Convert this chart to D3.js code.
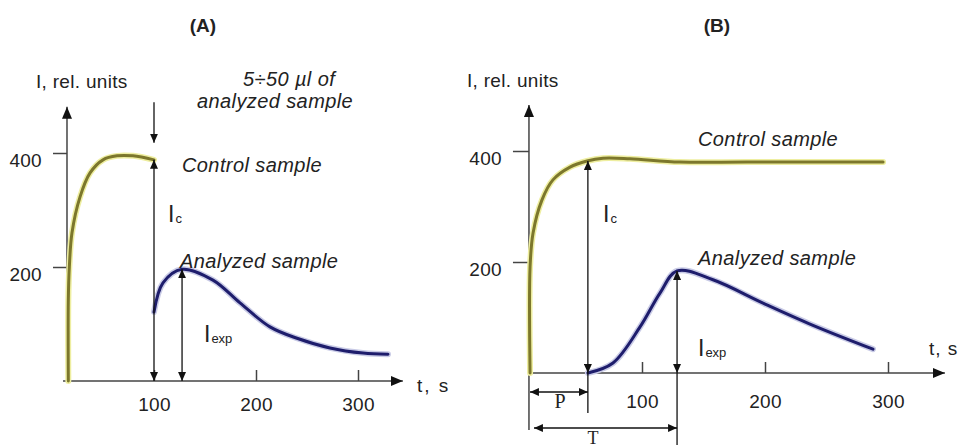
<!DOCTYPE html>
<html>
<head>
<meta charset="utf-8">
<script src="https://cdn.jsdelivr.net/npm/d3@7"></script>
<style>
  body { margin: 0; background: #fff; }
  svg text { font-family: "Liberation Sans", Arial, sans-serif; fill: #222; }
  .lbl { font-size: 20px; font-style: italic; letter-spacing: 0.4px; }
  .num { font-size: 19px; letter-spacing: 0.3px; }
  .ttl { font-size: 19px; font-weight: bold; }
  .axis .domain { display: none; }
  .axis line { stroke: #444; stroke-width: 1.5; }
</style>
</head>
<body>
<div id="figure-container"></div>
<script>
// tick values shared by both panels
const xTicks = [100, 200, 300];
const yTicks = [200, 400];

// (A) control sample, [t, I]
const controlA = [[16, 0], [16, 142], [17, 200], [19.6, 260], [27.5, 323], [37.3, 365],
  [50, 388], [63.7, 395], [79.4, 395], [100, 388]];
// (A) analyzed sample added at t = 100
const analyzedA = [[100, 121], [108.8, 172], [127.5, 196], [157.8, 177], [184.3, 137],
  [213.7, 95], [240.2, 75], [272.5, 58], [304.9, 49], [329.4, 47]];

// (B) control sample
const controlB = [[9, 0], [9, 191], [11.4, 252], [18.7, 312], [27.6, 348], [41.5, 371],
  [55.3, 382], [68.3, 387], [90.2, 386], [130.9, 380], [185.4, 380], [296, 380]];
// (B) analyzed sample, starts after delay P
const analyzedB = [[56, 0], [76.4, 18], [98.4, 83], [114.6, 144], [128.5, 184], [157.7, 168],
  [198.4, 126], [239, 86], [287.8, 43]];

// key times / levels
const injectA = 100, peakA = 127.5, peakIA = 196, ctrlIA = 388;
const P = 56, T = 128.5, peakIB = 184, ctrlIB = 382;

const W = 960, H = 445;

var svg = d3.select('#figure-container')
  .append('svg')
  .attr('width', W)
  .attr('height', H);

var defs = svg.append('defs');
function arrowMarker(id, len, wid) {
  defs.append('marker')
    .attr('id', id)
    .attr('viewBox', `0 0 ${len} ${wid}`)
    .attr('refX', len)
    .attr('refY', wid / 2)
    .attr('markerUnits', 'userSpaceOnUse')
    .attr('markerWidth', len)
    .attr('markerHeight', wid)
    .attr('orient', 'auto-start-reverse')
    .append('path')
    .attr('d', `M0,0L${len},${wid / 2}L0,${wid}z`)
    .attr('fill', '#111');
}
arrowMarker('head', 9, 8);
arrowMarker('axhead', 12, 10);

var line = (x, y) => d3.line()
  .x(d => x(d[0]))
  .y(d => y(d[1]))
  .curve(d3.curveCatmullRom.alpha(0.5));

function drawCurve(g, data, x, y, color, halo) {
  g.append('path')
    .attr('d', line(x, y)(data))
    .attr('fill', 'none')
    .attr('stroke', halo)
    .attr('stroke-width', 6)
    .attr('stroke-linecap', 'round')
    .attr('stroke-linejoin', 'round');
  g.append('path')
    .attr('d', line(x, y)(data))
    .attr('fill', 'none')
    .attr('stroke', color)
    .attr('stroke-width', 3)
    .attr('stroke-linecap', 'round')
    .attr('stroke-linejoin', 'round');
}

function vArrow(g, x, y, t, i0, i1, both) {
  g.append('line')
    .attr('x1', x(t)).attr('x2', x(t))
    .attr('y1', y(i0)).attr('y2', y(i1))
    .attr('stroke', '#111').attr('stroke-width', 1.3)
    .attr('marker-end', 'url(#head)')
    .attr('marker-start', both ? 'url(#head)' : null);
}

function subLabel(g, px, py, sub) {
  var t = g.append('text').attr('x', px).attr('y', py);
  t.append('tspan').style('font-size', '23px').text('I');
  t.append('tspan').attr('dx', 1).attr('dy', 1).style('font-size', '13px').text(sub);
}

function drawPanel(cfg) {
  var g = svg.append('g');
  var x = d3.scaleLinear().domain([100, 300]).range(cfg.xr);
  var y = d3.scaleLinear().domain([0, 400]).range(cfg.yr);

  // axes ticks
  var yAx = g.append('g').attr('class', 'axis')
    .attr('transform', `translate(${x(cfg.axisT)},0)`)
    .call(d3.axisLeft(y).tickValues(yTicks).tickSize(cfg.yTick).tickPadding(11));
  yAx.selectAll('text').attr('class', 'num').attr('dy', cfg.yLabDy);
  yAx.attr('font-size', null).attr('font-family', null);

  var xAx = g.append('g').attr('class', 'axis')
    .attr('transform', `translate(0,${y(0)})`)
    .call(d3.axisBottom(x).tickValues(xTicks).tickSize(-11).tickPadding(cfg.xPad));
  xAx.selectAll('text').attr('class', 'num');
  xAx.attr('font-size', null).attr('font-family', null);

  // axis lines with arrow heads
  g.append('line')
    .attr('x1', x(cfg.axisT)).attr('x2', x(cfg.axisT))
    .attr('y1', cfg.yAxBottom).attr('y2', y(cfg.yTop))
    .attr('stroke', '#444').attr('stroke-width', 1.5)
    .attr('marker-end', 'url(#axhead)');
  g.append('line')
    .attr('x1', x(cfg.xStart)).attr('x2', x(cfg.xEnd))
    .attr('y1', y(0)).attr('y2', y(0))
    .attr('stroke', '#444').attr('stroke-width', 1.5)
    .attr('marker-end', 'url(#axhead)');

  drawCurve(g, cfg.control, x, y, '#7c772c', '#eeeea0');
  drawCurve(g, cfg.analyzed, x, y, '#1e1d6c', '#c9cbe6');

  return {g: g, x: x, y: y};
}

// ---------- (A) ----------
var A = drawPanel({
  xr: [154, 358], yr: [381, 153], axisT: 14.7, yTop: 481, yAxBottom: 381,
  xStart: 10.8, xEnd: 344, yTick: 14, yLabDy: 13, xPad: 17,
  control: controlA, analyzed: analyzedA
});
vArrow(A.g, A.x, A.y, injectA, 489, 418, false);
vArrow(A.g, A.x, A.y, injectA, ctrlIA, 0, true);
vArrow(A.g, A.x, A.y, peakA, peakIA, 0, true);

A.g.append('text').attr('class', 'ttl').attr('x', 203).attr('y', 32).attr('text-anchor', 'middle').text('(A)');
A.g.append('text').attr('class', 'num').attr('x', 36).attr('y', 88).text('I, rel. units');
A.g.append('text').attr('class', 'lbl').attr('x', 243).attr('y', 86).text('5÷50 µl of');
A.g.append('text').attr('class', 'lbl').attr('x', 197).attr('y', 108).text('analyzed sample');
A.g.append('text').attr('class', 'lbl').attr('x', 182).attr('y', 172).text('Control sample');
A.g.append('text').attr('class', 'lbl').attr('x', 180).attr('y', 268).text('Analyzed sample');
A.g.append('text').attr('class', 'num').attr('x', 417).attr('y', 392).style('letter-spacing', '2px').text('t, s');
subLabel(A.g, 168, 222, 'c');
subLabel(A.g, 204, 342, 'exp');

// ---------- (B) ----------
var B = drawPanel({
  xr: [642, 888], yr: [373, 151], axisT: 8.1, yTop: 483, yAxBottom: 430,
  xStart: 8.1, xEnd: 346.3, yTick: 16, yLabDy: 13, xPad: 22,
  control: controlB, analyzed: analyzedB
});
vArrow(B.g, B.x, B.y, P, ctrlIB, 0, true);
vArrow(B.g, B.x, B.y, T, peakIB, 0, true);

// delay markers P and T below the axis
B.g.append('line')
  .attr('x1', B.x(P)).attr('x2', B.x(P)).attr('y1', B.y(0)).attr('y2', 413)
  .attr('stroke', '#111').attr('stroke-width', 1.3);
B.g.append('line')
  .attr('x1', B.x(T)).attr('x2', B.x(T)).attr('y1', B.y(0)).attr('y2', H)
  .attr('stroke', '#111').attr('stroke-width', 1.3);
B.g.append('line')
  .attr('x1', B.x(8.1) + 1).attr('x2', B.x(P)).attr('y1', 392).attr('y2', 392)
  .attr('stroke', '#111').attr('stroke-width', 1.3)
  .attr('marker-start', 'url(#head)').attr('marker-end', 'url(#head)');
B.g.append('line')
  .attr('x1', B.x(8.1) + 5).attr('x2', B.x(T)).attr('y1', 428).attr('y2', 428)
  .attr('stroke', '#111').attr('stroke-width', 1.3)
  .attr('marker-start', 'url(#head)').attr('marker-end', 'url(#head)');
B.g.append('text').attr('x', 560).attr('y', 408).attr('text-anchor', 'middle')
  .style('font-family', '"Liberation Serif", "Times New Roman", serif').style('font-size', '20px').text('P');
B.g.append('text').attr('x', 593).attr('y', 444).attr('text-anchor', 'middle')
  .style('font-family', '"Liberation Serif", "Times New Roman", serif').style('font-size', '18px').text('T');

B.g.append('text').attr('class', 'ttl').attr('x', 717).attr('y', 32).attr('text-anchor', 'middle').text('(B)');
B.g.append('text').attr('class', 'num').attr('x', 467).attr('y', 87).text('I, rel. units');
B.g.append('text').attr('class', 'lbl').attr('x', 698).attr('y', 146).text('Control sample');
B.g.append('text').attr('class', 'lbl').attr('x', 698).attr('y', 265).text('Analyzed sample');
B.g.append('text').attr('class', 'num').attr('x', 929).attr('y', 355).style('letter-spacing', '1px').text('t, s');
subLabel(B.g, 603, 222, 'c');
subLabel(B.g, 698, 356, 'exp');
</script>
</body>
</html>
